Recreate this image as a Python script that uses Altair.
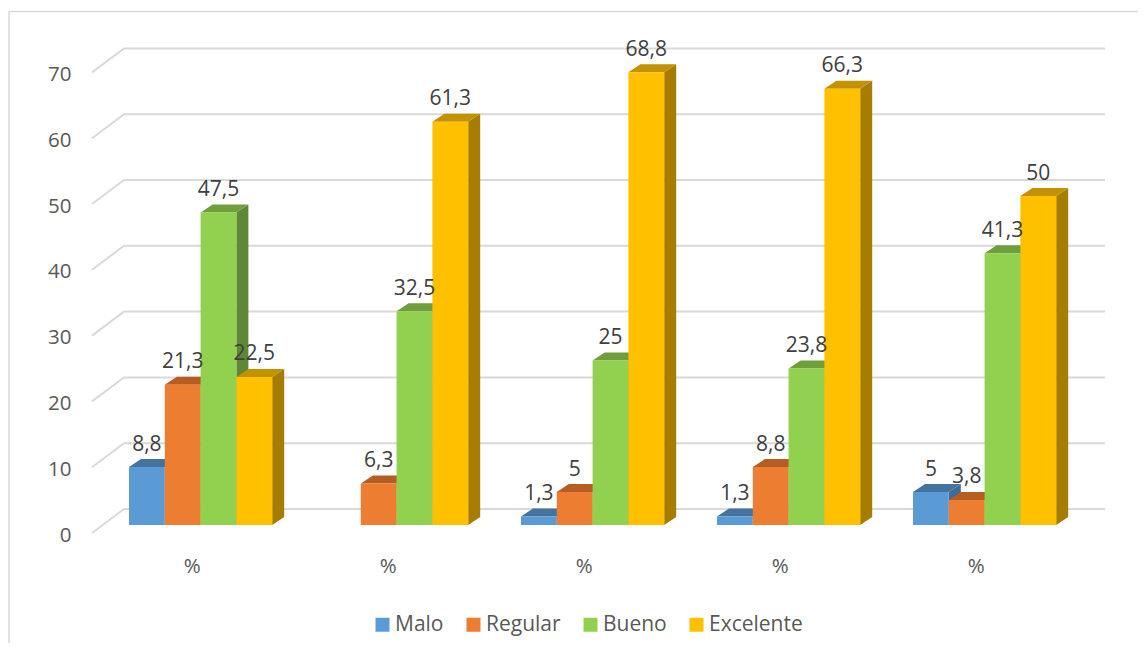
import altair as alt
import pandas as pd

series = ["Malo", "Regular", "Bueno", "Excelente"]
malo = [8.8, None, 1.3, 1.3, 5]
regular = [21.3, 6.3, 5, 8.8, 3.8]
bueno = [47.5, 32.5, 25, 23.8, 41.3]
excelente = [22.5, 61.3, 68.8, 66.3, 50]
y_ticks = [0, 10, 20, 30, 40, 50, 60, 70]
front = ["#5B9BD5", "#ED7D31", "#92D050", "#FFC000"]
top = ["#44739F", "#B65D24", "#6F9F3D", "#C29200"]
side = ["#3F6C97", "#A55420", "#5F8735", "#A67D00"]

FONT = "Open Sans"
W, H = 1130, 635
X0, X1 = 8, 1138
PX = 6.58                    # pixels per value unit
Y_MIN, Y_MAX = -110 / PX, 525 / PX
LIFT = 8 / PX                # bars stand this far behind the front edge
G = 8 / PX                   # height of the depth of a bar
D = 12                       # width of the depth of a bar
WALL_X, WALL_DX, WALL_END = 92, 32, 1105
WALL_G = 24 / PX
G0, STEP, BAR = 129, 196, 35.8

xs = alt.Scale(domain=[X0, X1], range=[0, W], nice=False, zero=False)
ys = alt.Scale(domain=[Y_MIN, Y_MAX], range=[H, 0], nice=False, zero=False)
AX = alt.Axis(
    values=[191.6 + i * STEP for i in range(5)], labelExpr="'%'", title=None,
    orient="bottom", offset=-87, domain=False, ticks=False, grid=False,
    labelPadding=0, labelFont=FONT, labelFontSize=20.5, labelColor="#595959",
    labelBaseline="top")
AY = alt.Axis(
    values=y_ticks, orient="left", offset=-63, domain=False, ticks=False, title=None,
    grid=False, labelPadding=0, labelFont=FONT, labelFontSize=20.5, labelOffset=2,
    labelColor="#595959", format="d")
XQ = alt.X("x:Q", scale=xs, axis=AX)
YQ = alt.Y("y:Q", scale=ys, axis=AY, stack=None)

rows = []
for s, vals in enumerate([malo, regular, bueno, excelente]):
    for g, v in enumerate(vals):
        if v is None:
            continue
        xl = G0 + g * STEP + s * BAR
        rows.append(dict(s=s, series=series[s], g=g, v=v, xl=xl, xr=xl + BAR,
                         base=LIFT, t=v + LIFT, xc=xl + BAR / 2,
                         label=f"{v:g}".replace(".", ",")))
bars = pd.DataFrame(rows)

side_rows, top_rows = [], []
for r in rows:
    side_rows += [dict(s=r["s"], g=r["g"], x=r["xr"], y=r["t"], y2=r["base"]),
                  dict(s=r["s"], g=r["g"], x=r["xr"] + D, y=r["t"] + G, y2=r["base"] + G)]
    top_rows += [dict(s=r["s"], g=r["g"], x=r["xl"], y=r["t"], y2=r["t"]),
                 dict(s=r["s"], g=r["g"], x=r["xl"] + D, y=r["t"] + G, y2=r["t"]),
                 dict(s=r["s"], g=r["g"], x=r["xr"], y=r["t"] + G, y2=r["t"]),
                 dict(s=r["s"], g=r["g"], x=r["xr"] + D, y=r["t"] + G, y2=r["t"] + G)]
side_df, top_df = pd.DataFrame(side_rows), pd.DataFrame(top_rows)

grid_rows = []
for t in y_ticks:
    grid_rows += [dict(t=t, x=WALL_X, y=t),
                  dict(t=t, x=WALL_X + WALL_DX, y=t + WALL_G),
                  dict(t=t, x=WALL_END, y=t + WALL_G)]
grid_df = pd.DataFrame(grid_rows)

grid = alt.Chart(grid_df).mark_line(color="#D9D9D9", strokeWidth=2).encode(
    x=XQ, y=YQ, detail="t:N")

color = alt.Color("series:N", scale=alt.Scale(domain=series, range=front),
                  legend=alt.Legend(orient="none", legendX=364, legendY=606,
                                    direction="horizontal", columns=4, title=None,
                                    symbolType="square", symbolSize=196,
                                    symbolStrokeWidth=0, symbolOpacity=1,
                                    labelFont=FONT, labelFontSize=21,
                                    labelColor="#595959", labelOffset=2,
                                    columnPadding=19, padding=0))

layers = [grid]
for s in range(len(series)):
    sd = side_df[side_df.s == s]
    td = top_df[top_df.s == s]
    fd = bars[bars.s == s]
    layers.append(alt.Chart(sd).mark_area(color=side[s]).encode(
        x=XQ, y=YQ, y2="y2:Q", detail="g:N"))
    layers.append(alt.Chart(td).mark_area(color=top[s]).encode(
        x=XQ, y=YQ, y2="y2:Q", detail="g:N"))
    layers.append(alt.Chart(fd).mark_rect().encode(
        x=alt.X("xl:Q", scale=xs, axis=AX), x2="xr:Q",
        y=alt.Y("t:Q", scale=ys, axis=AY), y2="base:Q", color=color))

labels = alt.Chart(bars).mark_text(
    font=FONT, fontSize=21, color="#404040", baseline="middle", dy=-22.5
).encode(x=alt.X("xc:Q", scale=xs, axis=AX),
         y=alt.Y("t:Q", scale=ys, axis=AY), text="label:N")
layers.append(labels)

one = pd.DataFrame({"a": [0]})
frame_left = alt.Chart(one).mark_rule(color="#D9D9D9", strokeWidth=1.5).encode(
    x=alt.value(1), y=alt.value(3.5), y2=alt.value(H))
frame_top = alt.Chart(one).mark_rule(color="#D9D9D9", strokeWidth=1.5).encode(
    x=alt.value(1), x2=alt.value(W), y=alt.value(3.5))
layers += [frame_left, frame_top]

chart = alt.layer(*layers).resolve_scale(color="shared").properties(
    width=W, height=H, padding=0, background="white",
    autosize=alt.AutoSizeParams(type="none"),
).configure_view(stroke=None)

chart.save("out.html", embed_options={"renderer": "svg", "actions": False})
